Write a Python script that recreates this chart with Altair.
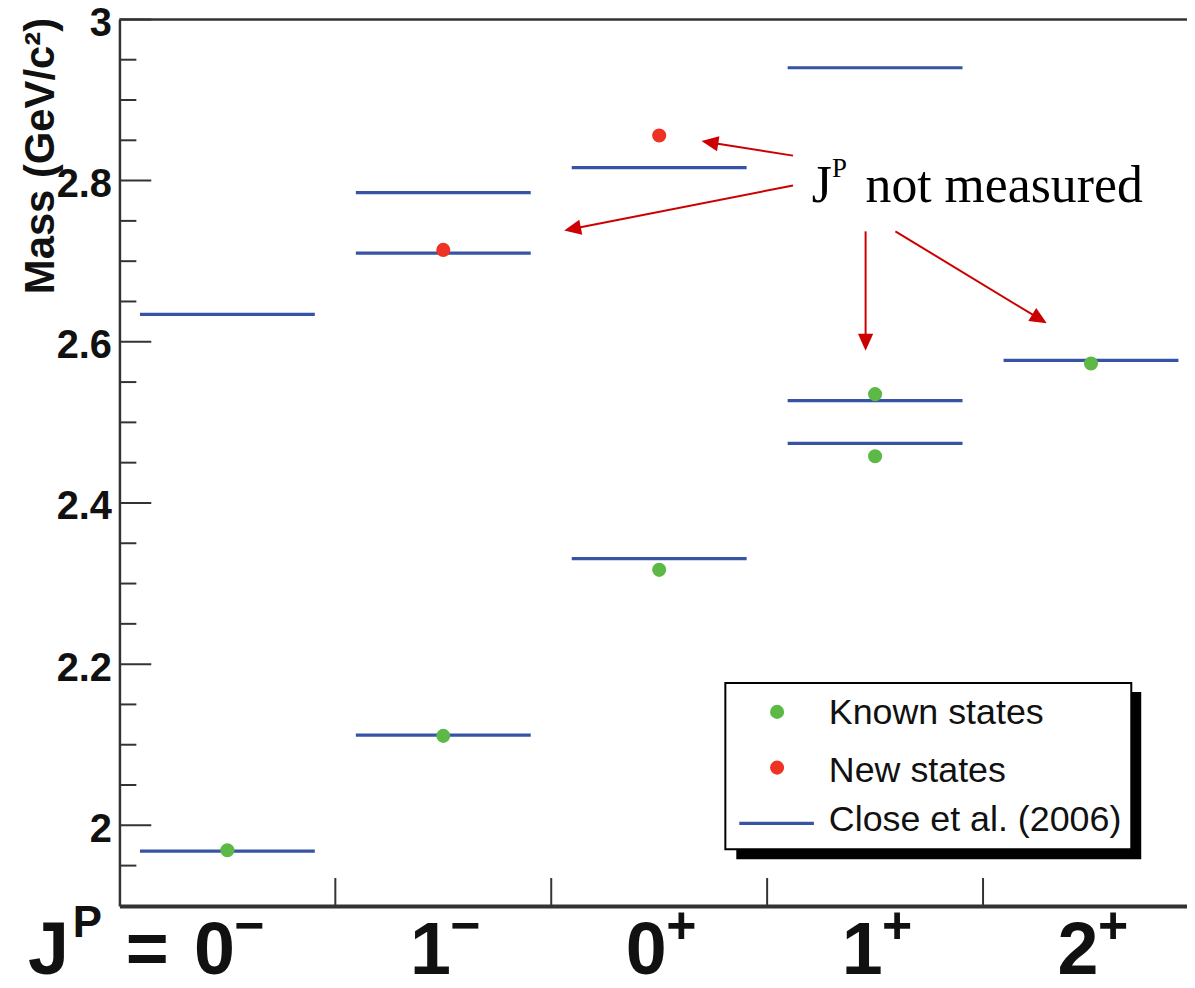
import math
import altair as alt
import pandas as pd

# ---------------- data ----------------
cat_digits = ["0", "1", "0", "1", "2"]
cat_sups = ["\u2212", "\u2212", "+", "+", "+"]

# Close et al. (2006) predictions
model_cat = [0, 0, 1, 1, 1, 2, 2, 3, 3, 3, 4]
model_mass = [1.968, 2.634, 2.112, 2.710, 2.785, 2.331, 2.816, 2.474, 2.527, 2.940, 2.577]

# Known states
known_cat = [0, 1, 2, 3, 3, 4]
known_mass = [1.969, 2.111, 2.317, 2.535, 2.458, 2.573]

# New states
new_cat = [1, 2]
new_mass = [2.714, 2.856]

legend_labels = ["Known states", "New states", "Close et al. (2006)"]

y_major = [2.0, 2.2, 2.4, 2.6, 2.8, 3.0]
y_minor = [1.95, 2.05, 2.10, 2.15, 2.25, 2.30, 2.35, 2.45, 2.50, 2.55,
           2.65, 2.70, 2.75, 2.85, 2.90, 2.95]
x_ticks = [1, 2, 3, 4]

# annotation arrows (data units: category, mass)
arrow_x0 = [3.120, 3.120, 3.456, 3.594]
arrow_y0 = [2.831, 2.794, 2.737, 2.737]
arrow_x1 = [2.696, 2.060, 3.456, 4.295]
arrow_y1 = [2.849, 2.738, 2.589, 2.623]

# ---------------- layout / style ----------------
W, H = 1073, 891
PX_CAT = 217.0
X_MAX = W / PX_CAT
Y_MIN, Y_MAX = 1.9, 3.0
PX_MASS = H / (Y_MAX - Y_MIN)
HALF = 0.405

BLUE = "#3754a4"
GREEN = "#5cb946"
RED = "#ee3224"
ARROW = "#cc0000"
AXIS = "#333333"
INK = "#111111"
FONT = "Liberation Sans"
SERIF = "Liberation Serif"

xs = alt.Scale(domain=[0, X_MAX], nice=False, zero=False)
ys = alt.Scale(domain=[Y_MIN, Y_MAX], nice=False, zero=False)

XAX = alt.Axis(labels=False, ticks=False, title=None, grid=False,
               domain=True, domainWidth=4, domainColor=AXIS)
YAX = alt.Axis(values=y_major, format="~g", ticks=False, grid=False,
               domain=True, domainWidth=2.5, domainColor=AXIS,
               labelFont=FONT, labelFontSize=40, labelFontWeight="bold", labelColor=INK,
               labelPadding=8, labelOffset=4,
               title="Mass (GeV/c\u00b2)", titleFont=FONT, titleFontSize=42,
               titleFontWeight="bold", titleColor=INK, titleAngle=270,
               titleAlign="right", titleBaseline="alphabetic",
               titleX=-66, titleY=-2)


def X(f):
    return alt.X(f, scale=xs, axis=XAX)


def Y(f):
    return alt.Y(f, scale=ys, axis=YAX)


# ---------------- tables ----------------
model_df = pd.DataFrame({
    "x0": [c + 0.5 - HALF for c in model_cat],
    "x1": [c + 0.5 + HALF for c in model_cat],
    "mass": model_mass,
})
known_df = pd.DataFrame({"x": [c + 0.5 for c in known_cat], "mass": known_mass})
new_df = pd.DataFrame({"x": [c + 0.5 for c in new_cat], "mass": new_mass})
label_df = pd.DataFrame({"x": [i + 0.5 for i in range(len(cat_digits))],
                         "d": cat_digits, "s": cat_sups})

HEAD = 17.0
rows = []
for x0, y0, x1, y1 in zip(arrow_x0, arrow_y0, arrow_x1, arrow_y1):
    dxp = (x1 - x0) * PX_CAT
    dyp = -(y1 - y0) * PX_MASS
    L = math.hypot(dxp, dyp)
    ux, uy = dxp / L, dyp / L
    ang = math.degrees(math.atan2(dxp, -dyp)) % 360
    back = HEAD * 0.6
    ex = x1 - ux * back / PX_CAT
    ey = y1 + uy * back / PX_MASS
    rows.append({"x0": x0, "y0": y0, "ex": ex, "ey": ey, "x1": x1, "y1": y1, "ang": ang})
arrow_df = pd.DataFrame(rows)

one = pd.DataFrame({"k": [0]})

# ---------------- layers ----------------
lines = alt.Chart(model_df).mark_rule(color=BLUE, strokeWidth=3.2).encode(
    x=X("x0:Q"), x2="x1:Q", y=Y("mass:Q"))

known = alt.Chart(known_df).mark_circle(size=200, color=GREEN, opacity=1).encode(
    x=X("x:Q"), y=Y("mass:Q"))
new = alt.Chart(new_df).mark_circle(size=200, color=RED, opacity=1).encode(
    x=X("x:Q"), y=Y("mass:Q"))

ymaj = alt.Chart(pd.DataFrame({"mass": y_major})).mark_rule(color=AXIS, strokeWidth=2).encode(
    y=Y("mass:Q"), x=alt.value(0), x2=alt.value(32))
ymin = alt.Chart(pd.DataFrame({"mass": y_minor})).mark_rule(color=AXIS, strokeWidth=2).encode(
    y=Y("mass:Q"), x=alt.value(0), x2=alt.value(17))
xt = alt.Chart(pd.DataFrame({"x": x_ticks})).mark_rule(color=AXIS, strokeWidth=2).encode(
    x=X("x:Q"), y=alt.value(H - 28), y2=alt.value(H))
top = alt.Chart(pd.DataFrame({"mass": [Y_MAX]})).mark_rule(color=AXIS, strokeWidth=2.5).encode(
    y=Y("mass:Q"), x=alt.value(0), x2=alt.value(W))

# x labels
DB = H + 68  # digit baseline
digits = alt.Chart(label_df).mark_text(font=FONT, fontSize=74, fontWeight="bold", color=INK,
                                       align="center", baseline="alphabetic", dx=-13).encode(
    x=X("x:Q"), y=alt.value(DB), text="d:N")
sups = alt.Chart(label_df).mark_text(font=FONT, fontSize=52, fontWeight="bold", color=INK,
                                     align="left", baseline="alphabetic", dx=7).encode(
    x=X("x:Q"), y=alt.value(DB - 31), text="s:N")
pre_j = alt.Chart(one).mark_text(text="J", font=FONT, fontSize=74, fontWeight="bold", color=INK,
                                 align="left", baseline="alphabetic").encode(
    x=alt.value(-92), y=alt.value(DB))
pre_p = alt.Chart(one).mark_text(text="P", font=FONT, fontSize=44, fontWeight="bold", color=INK,
                                 align="left", baseline="alphabetic").encode(
    x=alt.value(-47), y=alt.value(DB - 37))
pre_eq = alt.Chart(one).mark_text(text="=", font=FONT, fontSize=74, fontWeight="bold", color=INK,
                                  align="center", baseline="alphabetic").encode(
    x=alt.value(28), y=alt.value(DB))

# annotation
shafts = alt.Chart(arrow_df).mark_rule(color=ARROW, strokeWidth=2).encode(
    x=X("x0:Q"), y=Y("y0:Q"), x2="ex:Q", y2="ey:Q")
heads = alt.Chart(arrow_df).mark_point(shape="M0,0L0.45,1L-0.45,1Z", filled=True, color=ARROW,
                                       opacity=1, size=(2 * HEAD) ** 2, strokeWidth=0).encode(
    x=X("x1:Q"), y=Y("y1:Q"), angle=alt.Angle("ang:Q", scale=None))
ann_df = pd.DataFrame({"x": [3.207, 3.300, 3.456], "y": [2.774, 2.804, 2.774],
                       "t": ["J", "P", "not measured"], "fs": [52, 27, 52]})
ann = alt.Chart(ann_df).mark_text(font=SERIF, color="black", align="left",
                                  baseline="alphabetic").encode(
    x=X("x:Q"), y=Y("y:Q"), text="t:N",
    size=alt.Size("fs:Q", scale=None, legend=None))

# legend (drawn)
shadow = alt.Chart(one).mark_rect(color="black").encode(
    x=alt.value(620), x2=alt.value(1027), y=alt.value(676), y2=alt.value(844))
box = alt.Chart(one).mark_rect(fill="white", stroke="black", strokeWidth=2).encode(
    x=alt.value(609), x2=alt.value(1017), y=alt.value(667), y2=alt.value(834))
lg1 = alt.Chart(one).mark_circle(size=200, color=GREEN, opacity=1).encode(
    x=alt.value(661), y=alt.value(696))
lg2 = alt.Chart(one).mark_circle(size=200, color=RED, opacity=1).encode(
    x=alt.value(661), y=alt.value(752))
lg3 = alt.Chart(one).mark_rule(color=BLUE, strokeWidth=3.2).encode(
    x=alt.value(623), x2=alt.value(698), y=alt.value(808))
lt = []
for lab, yy in zip(legend_labels, [708, 766, 816]):
    lt.append(alt.Chart(one).mark_text(text=lab, font=FONT, fontSize=36, color=INK,
                                       align="left", baseline="alphabetic").encode(
        x=alt.value(713), y=alt.value(yy)))

chart = alt.layer(
    lines, ymaj, ymin, xt, top, known, new,
    digits, sups, pre_j, pre_p, pre_eq,
    shafts, heads, ann,
    shadow, box, lg1, lg2, lg3, *lt,
).properties(
    width=W, height=H,
    padding={"left": 112, "top": 9, "right": 0, "bottom": 72},
    autosize=alt.AutoSizeParams(type="none"),
    background="white",
).configure_view(stroke=None)

chart.save("out.html", embed_options={"renderer": "svg", "actions": False})
